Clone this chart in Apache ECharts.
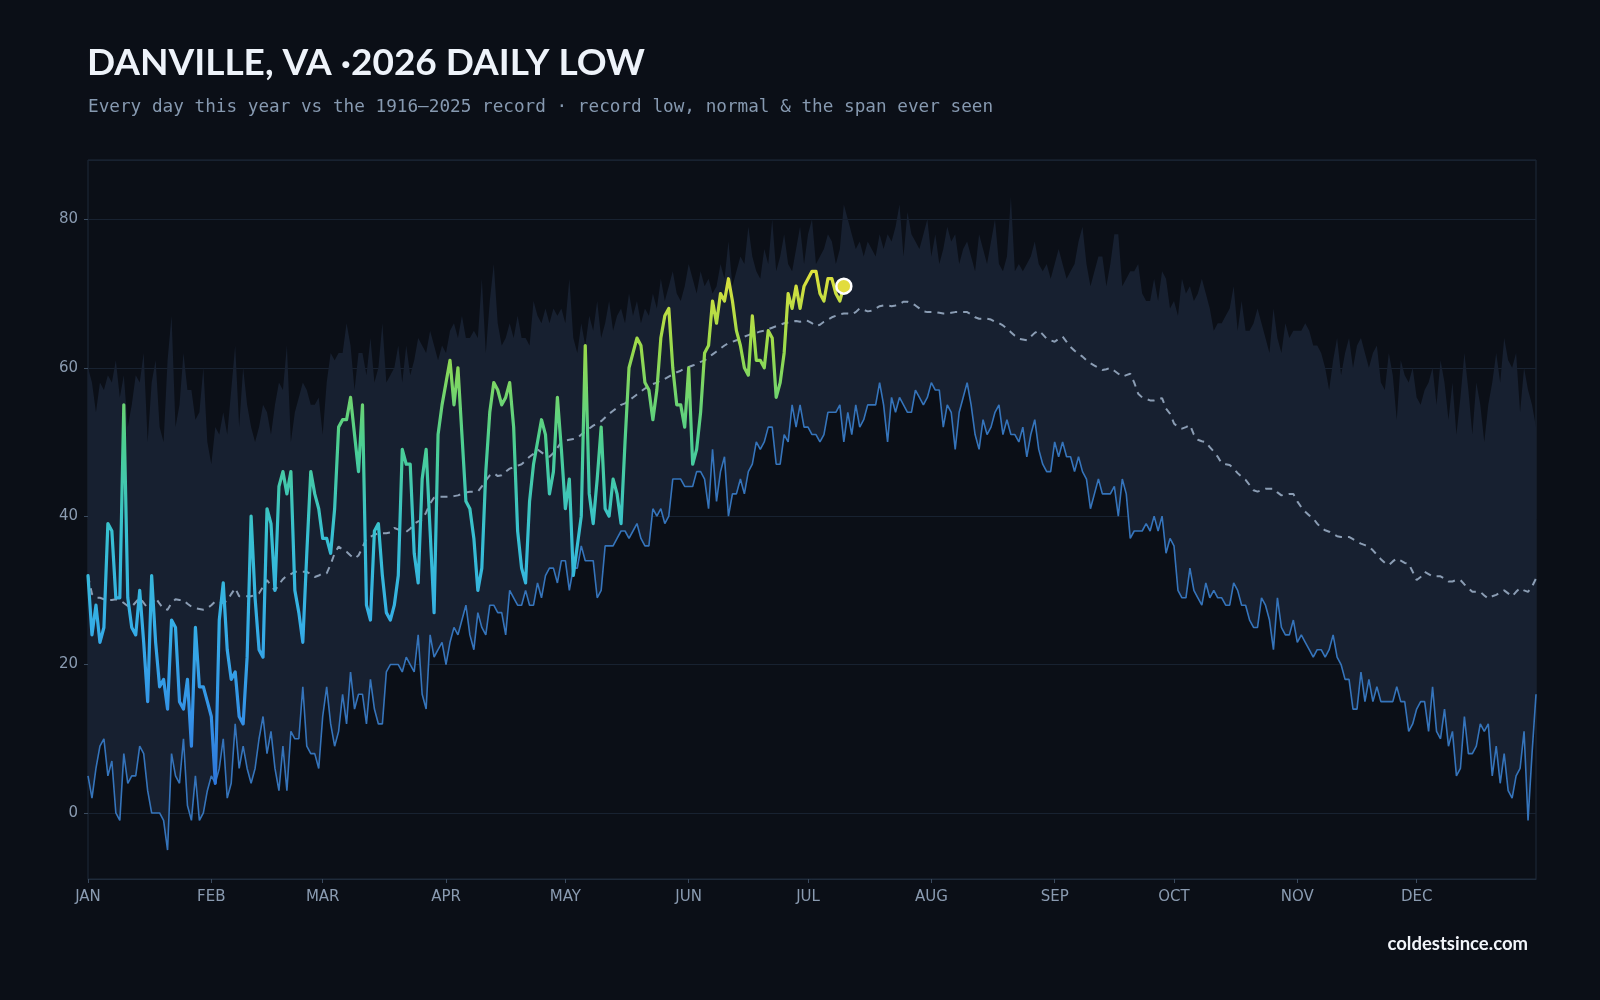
<!DOCTYPE html>
<html>
<head>
<meta charset="utf-8">
<title>Danville, VA 2026 daily low</title>
<script src="https://cdn.jsdelivr.net/npm/echarts@6.0.0/dist/echarts.min.js"></script>
<style>
  html, body { margin: 0; padding: 0; background: #0b0f17; }
  #chart { width: 1600px; height: 1000px; }
</style>
</head>
<body>
<div id="chart"></div>
<script>
// month axis
const MONTHS = ['JAN', 'FEB', 'MAR', 'APR', 'MAY', 'JUN', 'JUL', 'AUG', 'SEP', 'OCT', 'NOV', 'DEC'];
const MONTH_DAYS = [31, 28, 31, 30, 31, 30, 31, 31, 30, 31, 30, 31];

// record high of the daily low, 1916-2025 (°F), one value per day
const RECORD_HIGH = [
  60,58,54,58,57,59,58,61,56,59,52,55,59,58,62,50,58,61,52,50,61,67,52,55,62,57,57,53,54,60,50,
  47,52,51,54,51,57,63,52,60,55,52,50,52,55,54,51,55,58,57,63,50,54,56,58,57,55,55,56,
  51,58,62,61,62,62,66,63,57,62,62,59,64,58,60,66,58,59,60,63,58,63,59,61,64,63,62,65,63,61,63,
  62,65,66,64,67,64,64,65,64,72,62,69,74,66,63,64,66,64,67,64,64,63,69,67,66,68,66,68,67,68,
  66,72,64,62,66,63,67,65,69,64,66,69,65,67,68,66,70,67,69,66,68,67,70,68,72,69,71,73,70,69,71,
  74,72,70,73,71,72,70,71,74,72,77,71,73,75,74,79,75,73,72,76,74,80,73,75,78,74,73,76,79,74,
  78,80,74,75,76,78,77,74,76,82,80,78,76,77,75,77,76,75,78,76,78,77,79,82,75,81,78,77,76,78,80,
  75,78,74,76,79,77,78,74,76,77,75,73,78,76,74,77,80,74,73,75,83,73,74,73,74,75,77,74,73,74,72,
  74,76,74,72,73,74,77,79,74,71,73,75,75,71,74,78,78,71,72,73,73,74,70,69,69,72,69,73,72,68,
  69,67,72,70,71,69,70,72,70,68,65,66,66,67,68,71,65,69,65,65,66,68,66,64,62,68,64,62,66,64,65,
  65,65,66,65,63,63,62,60,57,61,64,59,62,64,60,63,64,62,60,62,63,58,57,62,59,53,61,59,58,60,
  56,55,57,58,60,55,61,58,53,58,51,56,62,57,51,58,55,50,55,58,62,58,64,61,60,62,54,60,57,55,52
];

// record low, 1916-2025 (°F)
const RECORD_LOW = [
  5,2,6,9,10,5,7,0,-1,8,4,5,5,9,8,3,0,0,0,-1,-5,8,5,4,10,1,-1,5,-1,0,3,
  5,4,6,10,2,4,12,6,9,6,4,6,10,13,8,11,6,3,9,3,11,10,10,17,9,8,8,6,
  13,17,12,9,11,16,12,19,14,16,16,12,18,14,12,12,19,20,20,20,19,21,20,19,24,16,14,24,21,22,23,
  20,23,25,24,26,28,24,22,27,25,24,28,28,27,27,24,30,29,28,28,30,28,28,31,29,32,33,33,31,34,
  34,30,33,33,36,34,34,34,29,30,36,36,36,37,38,38,37,38,39,37,36,36,41,40,41,39,40,45,45,45,44,
  44,44,46,46,45,41,49,42,46,48,40,43,43,45,43,46,47,50,49,50,52,52,47,47,51,50,55,52,55,52,
  52,51,51,50,51,54,54,54,55,50,54,51,55,52,53,55,55,55,58,55,50,56,54,56,55,54,54,57,56,55,56,
  58,57,57,52,55,54,49,54,56,58,55,51,49,53,51,52,54,55,51,53,51,51,50,52,48,51,53,49,47,46,46,
  50,48,50,48,48,46,48,46,45,41,43,45,43,43,43,44,40,45,43,37,38,38,38,39,38,40,38,40,35,37,
  36,30,29,29,33,30,29,28,31,29,30,29,29,28,28,31,30,28,28,26,25,25,29,28,26,22,29,25,24,24,26,
  23,24,23,22,21,22,22,21,22,24,21,20,18,18,14,14,19,15,18,15,17,15,15,15,15,17,15,15,11,12,
  14,15,15,11,17,11,10,14,9,11,5,6,13,8,8,9,12,11,12,5,9,4,8,3,2,5,6,11,-1,8,16
];

// normal daily low (°F)
const NORMAL = [
  32,29.5,29,29,28.8,28.7,28.7,28.8,28.7,28.3,27.9,27.8,28.4,29,28.3,27.6,28.2,29,28.2,27.5,27.4,28.3,28.8,28.7,28.7,28.2,27.8,27.6,27.5,27.4,27.6,
  28,28.5,28.5,28.3,28.6,29.5,30.3,29.2,29.2,29.2,29.2,29.4,29.6,30.5,31.4,30.6,30,30.8,31.5,32,32.2,32.5,32.5,32.5,32.5,32.2,31.8,32,
  32.3,32.3,33.5,35,35.9,35.5,35.2,34.7,34.3,34.7,35.8,37,37.2,37.5,37.7,37.7,37.7,37.8,38.4,38.2,38,37.9,38.3,39,39.3,39.5,40.5,41.7,42.5,42.6,42.6,
  42.6,42.6,42.7,42.8,43,43.2,43.3,43.3,43.3,44,44.8,45.5,45.8,45.4,45.5,46,46.4,46.6,46.8,47,47.5,48,48.4,49,48.6,48.2,48,48.5,49.2,50,
  50.2,50.3,50.4,50.5,51,51.4,51.8,52.2,52.5,52.8,53.3,53.8,54.2,54.6,55,55.2,55.6,56,56.4,56.8,57.2,57.5,57.8,58,58.3,58.5,58.8,59.1,59.4,59.6,59.9,
  60.1,60.3,60.5,60.8,61,61.4,61.8,62.2,62.6,63,63.3,63.5,63.7,64,64.2,64.4,64.6,64.7,64.9,65,65.2,65.4,65.6,65.8,66,66.1,66.2,66.3,66.2,66.4,
  66.3,66,65.6,65.8,66.2,66.5,66.8,67,67.2,67.3,67.3,67.2,67.5,68,67.8,67.6,67.7,68,68.3,68.4,68.4,68.3,68.4,68.6,68.9,68.9,68.7,68.4,68,67.6,67.5,
  67.5,67.5,67.4,67.3,67.3,67.4,67.5,67.5,67.5,67.5,67.2,66.8,66.6,66.6,66.6,66.5,66.2,66,65.7,65.3,64.8,64.3,63.9,63.8,63.7,64.2,64.7,65,64.5,63.9,63.7,
  63.5,63.9,64.2,63.5,62.8,62.3,61.9,61.5,61,60.6,60.3,60,59.7,59.8,60,59.6,59.2,58.8,59,59.2,58,56.5,56,55.8,55.6,55.6,55.8,55.9,54.5,53.8,
  52.5,52,51.8,52,52.3,51,50.3,50.1,50,49.3,48.7,48,47.1,47,46.9,46.4,45.8,45.3,44.9,44.2,43.5,43.3,43.5,43.7,43.7,43.7,43.2,42.8,42.9,43,43,
  42,41.2,40.6,40.1,39.7,39,38.4,38.1,37.9,37.6,37.3,37.2,37.2,37.2,36.9,36.6,36.3,36.1,35.9,35.4,34.8,34.2,33.7,33.4,33.9,34.3,34,33.7,33.6,32.5,
  31.4,31.8,32.5,32.2,31.9,31.9,31.9,31.6,31.2,31.2,31.4,31.4,30.8,30.3,29.8,29.8,29.8,29.3,28.9,29.2,29.4,29.7,30,29.6,29.2,29.8,30.3,30,29.8,30.5,31.6
];

// 2026 daily low so far (Jan 1 - Jul 10)
const THIS_YEAR = [
  32,24,28,23,25,39,38,29,29,55,29,25,24,30,23,15,32,23,17,18,14,26,25,15,14,18,9,25,17,17,15,
  13,4,26,31,22,18,19,13,12,21,40,29,22,21,41,39,30,44,46,43,46,30,27,23,35,46,43,41,
  37,37,35,41,52,53,53,56,51,46,55,28,26,38,39,32,27,26,28,32,49,47,47,35,31,45,49,38,27,51,55,
  58,61,55,60,51,42,41,37,30,33,46,54,58,57,55,56,58,52,38,33,31,42,47,50,53,51,43,46,56,49,
  41,45,32,36,40,63,43,39,45,52,41,40,45,43,39,50,60,62,64,63,58,57,53,57,64,67,68,60,55,55,52,
  60,47,49,54,62,63,69,66,70,69,72,69,65,63,60,59,67,61,61,60,65,64,56,58,62,70,68,71,68,71,
  72,73,73,70,69,72,72,70,69,71
];

// colour ramp of the 2026 line, cold to warm
const RAMP = ['#2a6ad6', '#3490e6', '#35ade6', '#37c0d2', '#4ccf90', '#98da4c', '#ece23a'];

const days = [];
const monthStart = [];
MONTHS.forEach(function (m, i) {
  monthStart.push(days.length);
  for (let d = 1; d <= MONTH_DAYS[i]; d++) days.push(m + ' ' + d);
});
const bandSpan = RECORD_HIGH.map(function (h, i) { return h - RECORD_LOW[i]; });
const lastIdx = THIS_YEAR.length - 1;
const isMonthStart = function (i) { return monthStart.indexOf(i) >= 0; };

const chart = echarts.init(document.getElementById('chart'));

const option = {
  backgroundColor: '#0b0f17',
  animation: false,
  title: [
    {
      text: 'DANVILLE, VA ·2026 DAILY LOW',
      left: 87,
      top: 45,
      padding: 0,
      textStyle: { color: '#eef3fa', fontSize: 37, fontWeight: 'bold', fontFamily: 'Lato' }
    },
    {
      text: 'Every day this year vs the 1916–2025 record · record low, normal & the span ever seen',
      left: 88,
      top: 98,
      padding: 0,
      textStyle: { color: '#8699b0', fontSize: 17.7, fontWeight: 'normal', fontFamily: 'DejaVu Sans Mono' }
    },
    {
      text: 'coldestsince.com',
      right: 72,
      top: 935,
      padding: 0,
      textStyle: { color: '#f2f5fa', fontSize: 18.5, fontWeight: 'bold', fontFamily: 'Lato' }
    }
  ],
  grid: {
    left: 88,
    right: 64,
    top: 160,
    bottom: 121,
    show: true,
    borderColor: '#1f2b3b',
    borderWidth: 1,
    backgroundColor: 'transparent'
  },
  visualMap: {
    show: false,
    type: 'continuous',
    seriesIndex: 4,
    dimension: 1,
    min: 0,
    max: 75,
    inRange: { color: RAMP }
  },
  xAxis: {
    type: 'category',
    data: days,
    boundaryGap: false,
    axisLine: { show: true, onZero: false, lineStyle: { color: '#1f2b3b' } },
    axisTick: {
      show: true,
      length: 4,
      interval: isMonthStart,
      lineStyle: { color: '#3b4b5f' }
    },
    axisLabel: {
      interval: isMonthStart,
      formatter: function (v) { return v.split(' ')[0]; },
      color: '#8a9bb1',
      fontSize: 15,
      fontFamily: 'DejaVu Sans',
      margin: 11
    },
    splitLine: { show: false }
  },
  yAxis: {
    type: 'value',
    min: -8.9,
    max: 88,
    splitNumber: 5,
    axisLine: { show: false },
    axisTick: { show: true, length: 4, lineStyle: { color: '#3b4b5f' } },
    axisLabel: {
      color: '#8a9bb1',
      fontSize: 15,
      fontFamily: 'DejaVu Sans',
      margin: 10,
      showMinLabel: false,
      showMaxLabel: false
    },
    splitLine: { show: true, lineStyle: { color: '#182231', width: 1 } }
  },
  series: [
    {
      // invisible base for the record band
      name: 'base',
      type: 'line',
      data: RECORD_LOW,
      stack: 'band',
      stackStrategy: 'all',
      symbol: 'none',
      silent: true,
      lineStyle: { opacity: 0 }
    },
    {
      name: 'span ever seen',
      type: 'line',
      data: bandSpan,
      stack: 'band',
      stackStrategy: 'all',
      symbol: 'none',
      silent: true,
      lineStyle: { opacity: 0 },
      areaStyle: { color: '#172030', opacity: 1 }
    },
    {
      name: 'record low',
      type: 'line',
      data: RECORD_LOW,
      symbol: 'none',
      lineStyle: { color: '#3574bb', width: 1.6 }
    },
    {
      name: 'normal',
      type: 'line',
      data: NORMAL,
      symbol: 'none',
      lineStyle: { color: '#8b9db4', width: 2, type: [7, 6] }
    },
    {
      name: '2026',
      type: 'line',
      data: THIS_YEAR,
      symbol: 'none',
      z: 5,
      lineStyle: { width: 3.2, cap: 'round', join: 'round' }
    },
    {
      name: 'today',
      type: 'scatter',
      data: [[lastIdx, THIS_YEAR[lastIdx]]],
      symbol: 'circle',
      symbolSize: 15,
      z: 6,
      itemStyle: { color: '#e2dc3e', borderColor: '#ffffff', borderWidth: 2.5, opacity: 1 }
    }
  ]
};

chart.setOption(option);
window.addEventListener('resize', function () {
  chart.resize();
});
</script>
</body>
</html>
